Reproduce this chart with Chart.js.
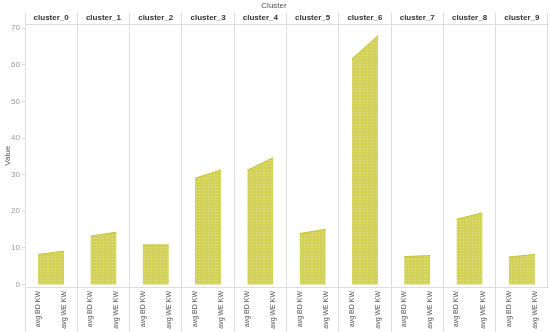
<!DOCTYPE html>
<html>
<head>
<meta charset="utf-8">
<script src="https://cdn.jsdelivr.net/npm/chart.js@4"></script>
<style>
  html, body { margin: 0; padding: 0; background: #fff; }
  #wrap { width: 550px; height: 332px; }
</style>
</head>
<body>
<div id="wrap"><canvas id="clusterChart"></canvas></div>
<script>
const clusters = ['cluster_0','cluster_1','cluster_2','cluster_3','cluster_4','cluster_5','cluster_6','cluster_7','cluster_8','cluster_9'];
const measures = ['avg BD KW', 'avg WE KW'];
const avgBD = [8.2, 13.2, 10.8, 29.0, 31.2, 13.9, 61.6, 7.6, 17.8, 7.5];
const avgWE = [9.1, 14.3, 10.8, 31.3, 34.7, 15.1, 68.0, 7.9, 19.6, 8.2];
const yTicks = [0, 10, 20, 30, 40, 50, 60, 70];

const FONT = "'Liberation Sans', Arial, sans-serif";

// dotted yellow fill like the original
function dotPattern() {
  const c = document.createElement('canvas');
  c.width = 3; c.height = 3;
  const g = c.getContext('2d');
  g.fillStyle = '#d2d258';
  g.fillRect(0, 0, 3, 3);
  g.fillStyle = '#e2e294';
  g.fillRect(1, 1, 1, 1);
  return g.createPattern(c, 'repeat');
}
const fillPattern = dotPattern();

// one x label per cluster/measure pair
const xLabels = [];
clusters.forEach(() => measures.forEach(m => xLabels.push(m)));

const datasets = clusters.map((name, i) => {
  const data = new Array(xLabels.length).fill(null);
  data[i * 2] = avgBD[i];
  data[i * 2 + 1] = avgWE[i];
  return {
    label: name,
    data: data,
    fill: 'origin',
    backgroundColor: fillPattern,
    borderColor: '#c4c434',
    borderWidth: 1,
    pointRadius: 0,
    tension: 0
  };
});

const ctx = document.getElementById('clusterChart');

new Chart(ctx, {
  type: 'line',
  data: { labels: xLabels, datasets: datasets },
  options: {
    responsive: true,
    maintainAspectRatio: false,
    animation: false,
    layout: { padding: { top: 0, right: 2, left: 0, bottom: 0 } },
    plugins: {
      legend: { display: false },
      tooltip: { enabled: false },
      title: {
        display: true,
        text: 'Cluster',
        color: '#555',
        font: { family: FONT, size: 8, weight: 'normal' },
        padding: { top: 1, bottom: 2 }
      }
    },
    scales: {
      x: {
        type: 'category',
        offset: true,
        grid: {
          offset: true,
          drawOnChartArea: false,
          tickLength: 45,
          color: c => (c.index % 2 === 0 ? '#dddddd' : 'rgba(0,0,0,0)')
        },
        border: { color: '#dddddd' },
        ticks: {
          autoSkip: false,
          minRotation: 90,
          maxRotation: 90,
          padding: -41,
          color: '#555',
          font: { family: FONT, size: 7 }
        },
        afterFit: s => { s.height = 45; }
      },
      x2: {
        type: 'category',
        position: 'top',
        labels: clusters,
        offset: true,
        grid: {
          offset: true,
          drawOnChartArea: true,
          tickLength: 12,
          color: '#dddddd'
        },
        border: { color: '#dddddd' },
        ticks: {
          autoSkip: false,
          maxRotation: 0,
          padding: -10,
          color: '#333',
          font: { family: FONT, size: 8, weight: 'bold' }
        },
        afterFit: s => { s.height = 12; }
      },
      y: {
        min: -0.7,
        max: 71,
        afterBuildTicks: s => { s.ticks = yTicks.map(v => ({ value: v })); },
        grid: { drawOnChartArea: false, tickLength: 3, color: '#dddddd' },
        border: { color: '#dddddd' },
        ticks: {
          padding: 2,
          color: '#999',
          font: { family: FONT, size: 8 }
        },
        title: {
          display: true,
          text: 'Value',
          color: '#555',
          padding: { top: 3, bottom: 0 },
          font: { family: FONT, size: 8 }
        },
        afterFit: s => { s.width = 25; }
      }
    }
  }
});
</script>
</body>
</html>
